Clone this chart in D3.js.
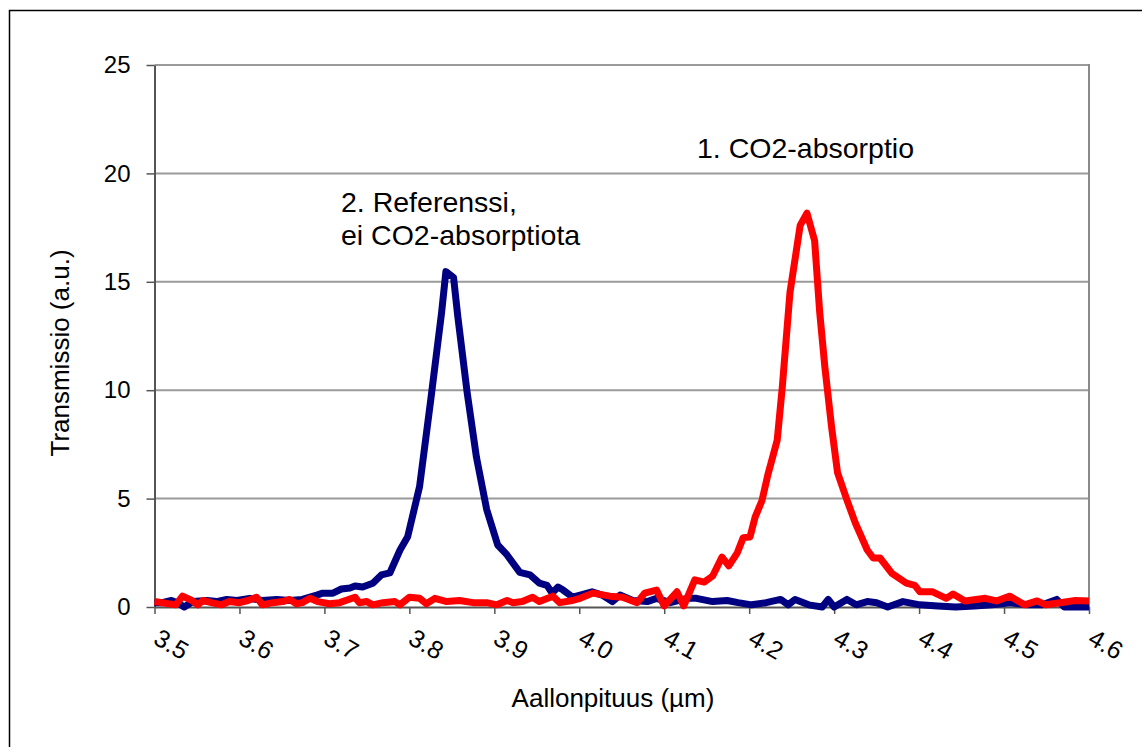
<!DOCTYPE html>
<html lang="fi">
<head>
    <meta charset="UTF-8">
    <title>CO2-absorptio</title>
    <script src="https://d3js.org/d3.v7.min.js"></script>
    <style>
        body { margin: 0; background: #fff; }
        svg { display: block; font-family: "Liberation Sans", Arial, sans-serif; }
    </style>
</head>
<body>
<svg></svg>
<script>

    var width = 1142;
    var height = 747;

    // 2. Referenssi (blue): wavelength in µm and transmission
    var refWl = [3.500, 3.509, 3.520, 3.527, 3.535, 3.545, 3.562, 3.573, 3.585, 3.597,
        3.612, 3.627, 3.644, 3.659, 3.674, 3.691, 3.698, 3.710, 3.720, 3.730,
        3.736, 3.745, 3.757, 3.767, 3.777, 3.789, 3.798, 3.812, 3.825, 3.838,
        3.843, 3.852, 3.857, 3.868, 3.879, 3.891, 3.904, 3.915, 3.930, 3.942,
        3.953, 3.962, 3.968, 3.975, 3.981, 3.992, 4.001, 4.015, 4.027, 4.039,
        4.048, 4.063, 4.080, 4.091, 4.107, 4.127, 4.138, 4.157, 4.174, 4.187,
        4.203, 4.220, 4.237, 4.246, 4.254, 4.270, 4.286, 4.293, 4.300, 4.315,
        4.326, 4.339, 4.350, 4.363, 4.381, 4.401, 4.422, 4.443, 4.465, 4.486,
        4.507, 4.528, 4.545, 4.562, 4.571, 4.584, 4.600];
    var refVal = [0.2, 0.2, 0.3, 0.2, 0.0, 0.25, 0.3, 0.25, 0.35, 0.3,
        0.4, 0.3, 0.35, 0.3, 0.35, 0.55, 0.64, 0.64, 0.83, 0.88,
        0.97, 0.92, 1.1, 1.48, 1.57, 2.63, 3.24, 5.55, 9.5, 13.6,
        15.47, 15.2, 13.4, 9.9, 6.9, 4.5, 2.86, 2.4, 1.6, 1.48,
        1.1, 1.0, 0.64, 0.92, 0.78, 0.46, 0.55, 0.7, 0.55, 0.25,
        0.55, 0.3, 0.25, 0.4, 0.2, 0.4, 0.4, 0.25, 0.3, 0.2,
        0.1, 0.2, 0.35, 0.1, 0.35, 0.1, 0.0, 0.35, 0.0, 0.35,
        0.1, 0.25, 0.2, 0.0, 0.25, 0.1, 0.05, 0.0, 0.05, 0.1,
        0.2, 0.1, 0.1, 0.35, 0.0, 0.0, 0.0];

    // 1. CO2-absorptio (red)
    var co2Wl = [3.500, 3.509, 3.525, 3.533, 3.544, 3.551, 3.557, 3.567, 3.579, 3.588,
        3.600, 3.610, 3.620, 3.627, 3.639, 3.651, 3.659, 3.667, 3.674, 3.683,
        3.692, 3.706, 3.718, 3.736, 3.741, 3.750, 3.757, 3.769, 3.783, 3.789,
        3.800, 3.812, 3.820, 3.830, 3.844, 3.859, 3.875, 3.891, 3.903, 3.915,
        3.922, 3.933, 3.945, 3.953, 3.969, 3.977, 3.992, 4.001, 4.016, 4.036,
        4.051, 4.068, 4.077, 4.091, 4.100, 4.115, 4.123, 4.136, 4.147, 4.157,
        4.168, 4.176, 4.186, 4.193, 4.201, 4.207, 4.215, 4.222, 4.233, 4.239,
        4.248, 4.260, 4.268, 4.277, 4.283, 4.289, 4.297, 4.304, 4.315, 4.325,
        4.339, 4.346, 4.354, 4.368, 4.385, 4.395, 4.401, 4.416, 4.432, 4.440,
        4.454, 4.478, 4.491, 4.507, 4.524, 4.539, 4.549, 4.566, 4.584, 4.600];
    var co2Val = [0.25, 0.2, 0.1, 0.5, 0.3, 0.1, 0.3, 0.2, 0.1, 0.25,
        0.2, 0.3, 0.45, 0.1, 0.2, 0.25, 0.35, 0.15, 0.2, 0.4,
        0.25, 0.15, 0.2, 0.45, 0.2, 0.25, 0.1, 0.2, 0.25, 0.1,
        0.45, 0.4, 0.15, 0.4, 0.25, 0.3, 0.2, 0.2, 0.1, 0.3,
        0.2, 0.25, 0.45, 0.25, 0.5, 0.2, 0.3, 0.4, 0.64, 0.5,
        0.45, 0.2, 0.64, 0.78, 0.05, 0.7, 0.05, 1.25, 1.15, 1.43,
        2.3, 1.9, 2.5, 3.2, 3.23, 4.15, 4.9, 6.1, 7.7, 10.15,
        14.5, 17.6, 18.17, 16.9, 13.6, 11.1, 8.3, 6.2, 4.94, 3.87,
        2.63, 2.26, 2.26, 1.55, 1.1, 1.0, 0.7, 0.7, 0.4, 0.6,
        0.28, 0.4, 0.28, 0.5, 0.1, 0.28, 0.1, 0.2, 0.3, 0.28];

    var yTicks = [0, 5, 10, 15, 20, 25];
    var xTicks = [3.5, 3.6, 3.7, 3.8, 3.9, 4.0, 4.1, 4.2, 4.3, 4.4, 4.5, 4.6];
    var xTitle = "Aallonpituus (µm)";
    var yTitle = "Transmissio (a.u.)";
    var co2Label = "1. CO2-absorptio";
    var refLabel = ["2. Referenssi,", "ei CO2-absorptiota"];

    var plot = {left: 154.5, right: 1089, top: 65, bottom: 607};

    var svg = d3.select("svg").attr("width", width).attr("height", height);

    // outer chart frame (runs off the right and bottom edges)
    svg.append("rect")
        .attr("x", 9.5).attr("y", 10.5)
        .attr("width", 1150).attr("height", 760)
        .attr("fill", "none")
        .attr("stroke", "#000")
        .attr("stroke-width", 1.5);

    var xScale = d3.scaleLinear().domain([3.5, 4.6]).range([plot.left, plot.right]);
    var yScale = d3.scaleLinear().domain([0, 25]).range([plot.bottom, plot.top]);

    // gridlines
    svg.append("g")
        .selectAll("line")
        .data(yTicks.slice(1))
        .enter()
        .append("line")
        .attr("x1", plot.left).attr("x2", plot.right)
        .attr("y1", function (d) { return yScale(d); })
        .attr("y2", function (d) { return yScale(d); })
        .attr("stroke", "#9a9a9a")
        .attr("stroke-width", 2);

    // right border of plot area
    svg.append("line")
        .attr("x1", plot.right).attr("x2", plot.right)
        .attr("y1", plot.top - 1).attr("y2", plot.bottom)
        .attr("stroke", "#8a8a8a")
        .attr("stroke-width", 2);

    var yAxis = d3.axisLeft(yScale).tickValues(yTicks).tickSize(8).tickPadding(16).tickSizeOuter(0);
    var gy = svg.append("g").attr("transform", "translate(" + plot.left + ",0)").call(yAxis);
    gy.select(".domain").attr("stroke", "#555").attr("stroke-width", 2);
    gy.selectAll(".tick line").attr("stroke", "#555").attr("stroke-width", 1.5);
    gy.selectAll(".tick text")
        .attr("font-size", 24)
        .attr("fill", "#000")
        .attr("font-family", "Liberation Sans, Arial, sans-serif");

    var xAxis = d3.axisBottom(xScale).tickValues(xTicks).tickSize(7).tickSizeOuter(0)
        .tickFormat(d3.format(".1f"));
    var gx = svg.append("g").attr("transform", "translate(0," + plot.bottom + ")").call(xAxis);
    gx.select(".domain").attr("stroke", "#555").attr("stroke-width", 2);
    gx.selectAll(".tick line").attr("stroke", "#555").attr("stroke-width", 1.5);
    gx.selectAll(".tick text")
        .attr("font-size", 25)
        .attr("fill", "#000")
        .attr("font-family", "Liberation Sans, Arial, sans-serif")
        .attr("text-anchor", "start")
        .attr("y", 0).attr("dy", 0)
        .attr("transform", "translate(-3,36) rotate(30)");

    var line = d3.line()
        .x(function (d) { return xScale(d[0]); })
        .y(function (d) { return yScale(d[1]); });

    var refData = d3.zip(refWl, refVal);
    var co2Data = d3.zip(co2Wl, co2Val);

    svg.append("path")
        .datum(refData)
        .attr("d", line)
        .attr("fill", "none")
        .attr("stroke", "#000080")
        .attr("stroke-width", 7)
        .attr("stroke-linejoin", "round");

    svg.append("path")
        .datum(co2Data)
        .attr("d", line)
        .attr("fill", "none")
        .attr("stroke", "#ff0000")
        .attr("stroke-width", 7)
        .attr("stroke-linejoin", "round");

    // axis titles
    svg.append("text")
        .attr("x", 613).attr("y", 707)
        .attr("text-anchor", "middle")
        .attr("font-size", 26)
        .text(xTitle);

    svg.append("text")
        .attr("transform", "translate(69,353) rotate(-90)")
        .attr("text-anchor", "middle")
        .attr("font-size", 26)
        .text(yTitle);

    // annotations
    svg.append("text")
        .attr("x", 697).attr("y", 158)
        .attr("font-size", 28.5)
        .text(co2Label);

    svg.append("text")
        .attr("x", 341).attr("y", 212)
        .attr("font-size", 28.5)
        .text(refLabel[0]);
    svg.append("text")
        .attr("x", 341).attr("y", 245)
        .attr("font-size", 28.5)
        .text(refLabel[1]);
</script>
</body>
</html>
